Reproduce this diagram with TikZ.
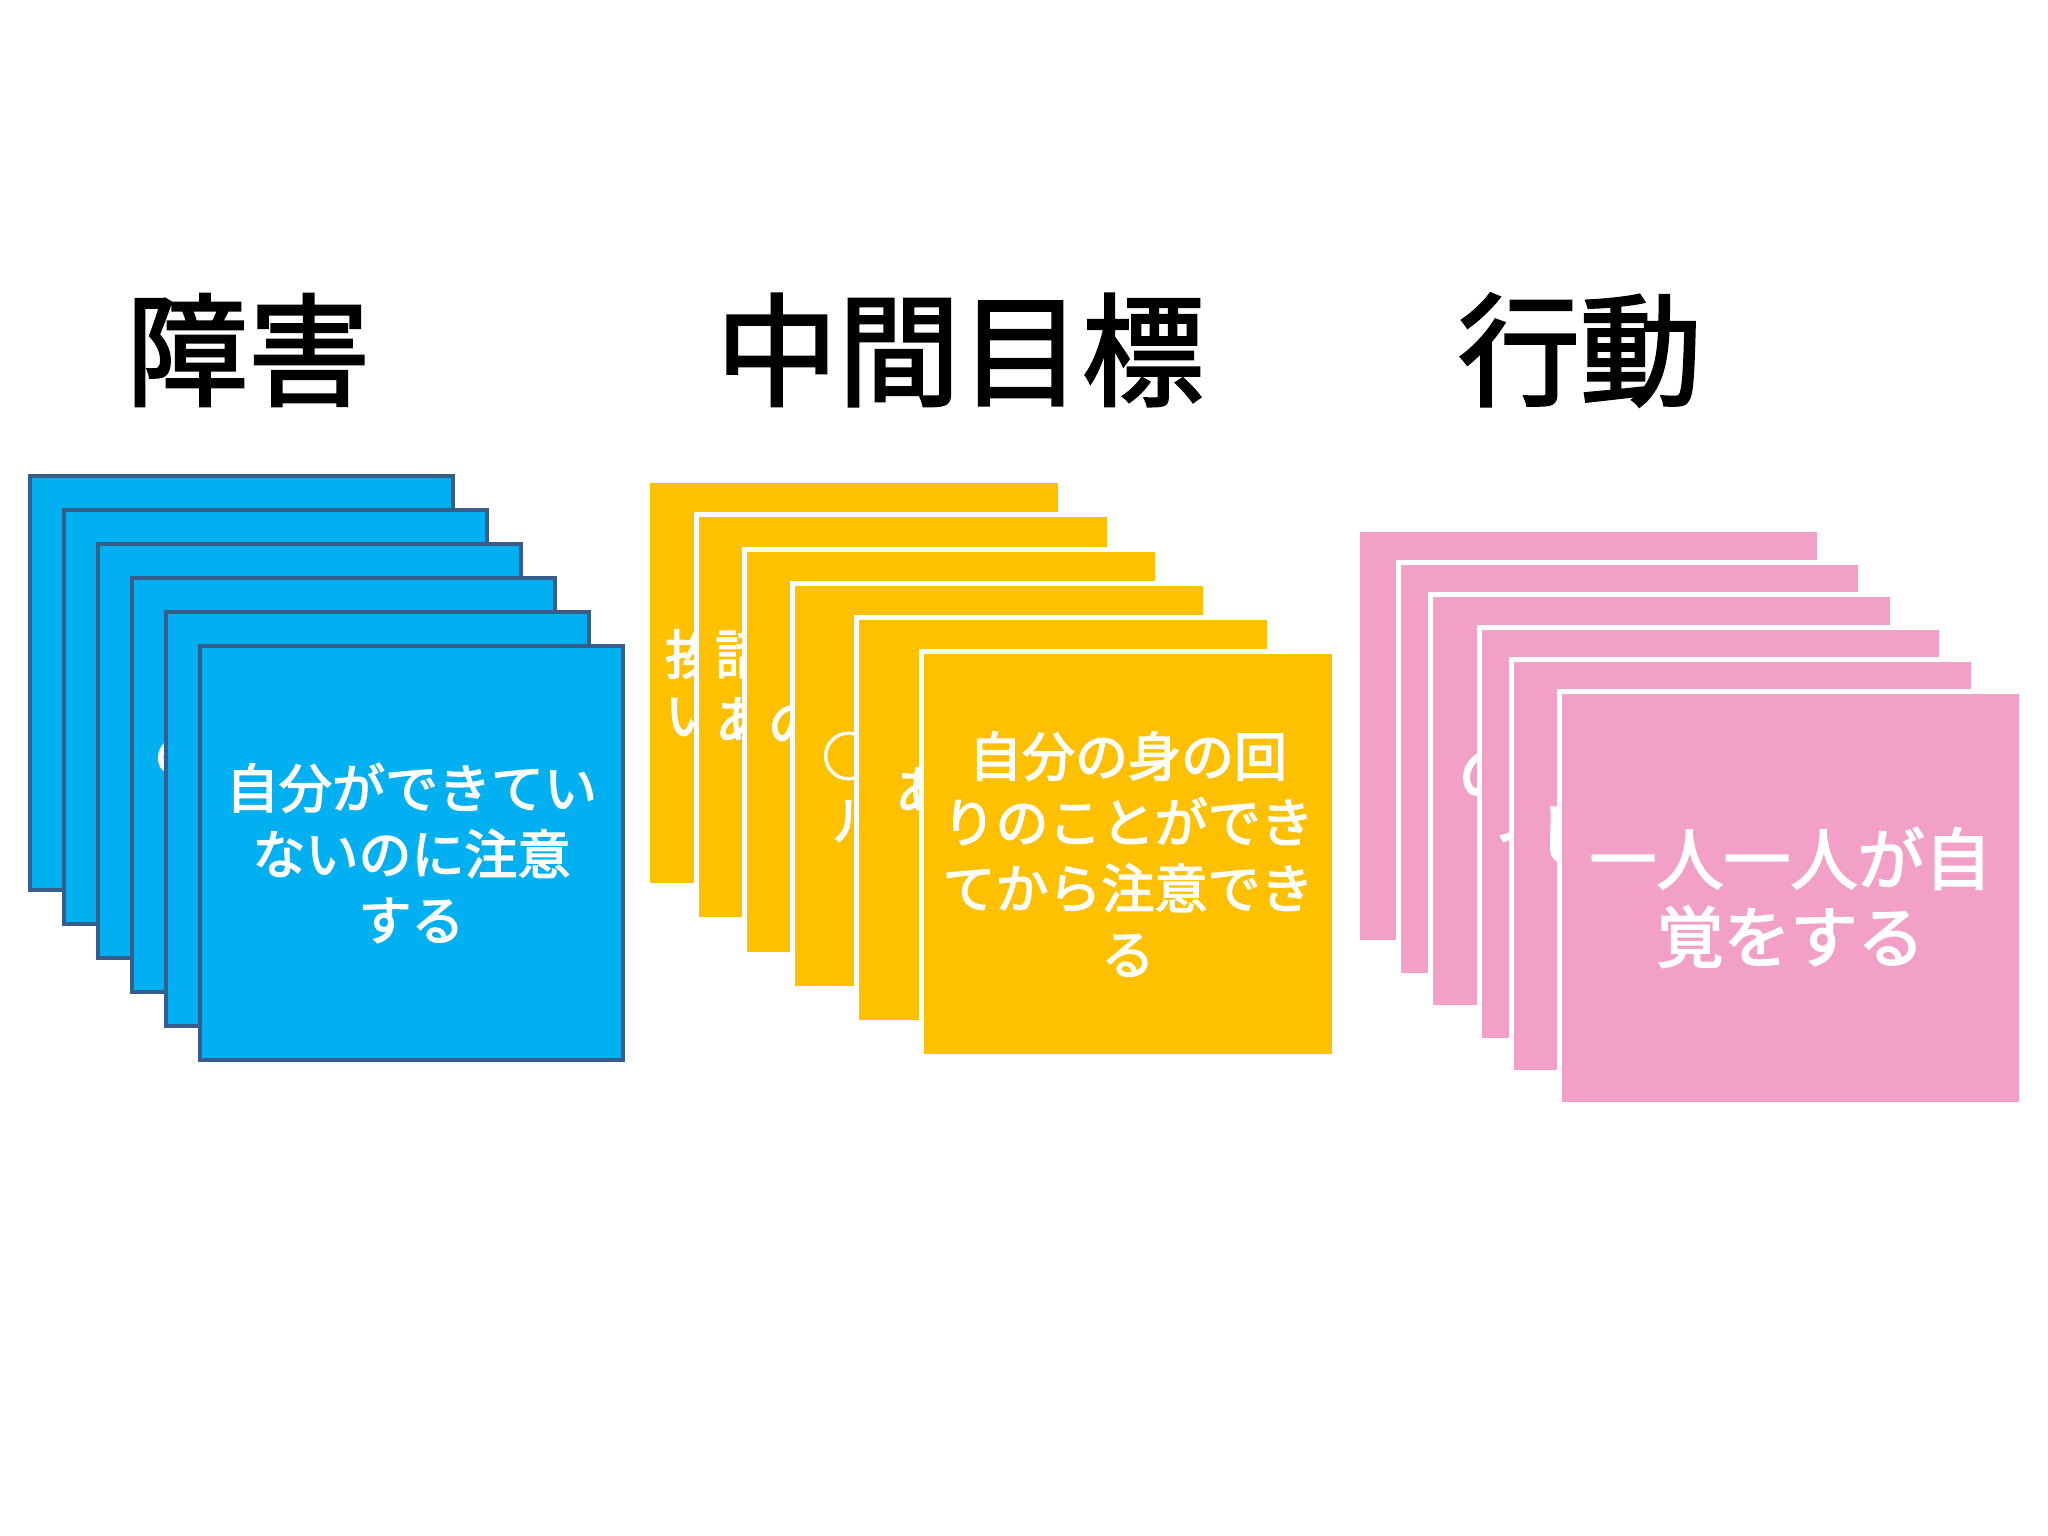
\documentclass[tikz,border=0pt]{standalone}
\usepackage{fontspec}
\newfontfamily\jp[FakeBold=2.6]{Noto Sans CJK JP}
\newfontfamily\jpt[FakeBold=2.2]{Noto Sans CJK JP}
\definecolor{bluefill}{HTML}{00B0F0}
\definecolor{bluedge}{HTML}{385D8A}
\definecolor{yelfill}{HTML}{FFC000}
\definecolor{pinkfill}{HTML}{F2A0C8}
\tikzset{
  cardbase/.style={rectangle, anchor=north west, inner sep=0pt, outer sep=0pt, align=center, text=white},
  bluecard/.style={cardbase, draw=bluedge, line width=4pt, fill=bluefill, minimum width=423pt, minimum height=414pt},
  yelcard/.style={cardbase, draw=white, line width=5pt, fill=yelfill, minimum width=413pt, minimum height=405pt},
  pinkcard/.style={cardbase, draw=white, line width=5pt, fill=pinkfill, minimum width=462pt, minimum height=413pt},
  smalltext/.style={font=\jp\fontsize{53}{66}\selectfont},
  bigtext/.style={font=\jp\fontsize{67}{78}\selectfont},
  frag/.style={text=white, inner sep=0pt, outer sep=0pt, anchor=west},
  title/.style={inner sep=0pt, text=black, font=\jpt\fontsize{122}{140}\selectfont}
}
\begin{document}
\begin{tikzpicture}[x=1pt,y=-1pt]
\useasboundingbox (0,0) rectangle (2048,1536);
\fill[white] (0,0) rectangle (2048,1536);
% titles
\node[title] (t1) at (248,350) {障害};
\node[title] (t2) at (960,350) {中間目標};
\node[title] (t3) at (1580,350) {行動};
% blue stack
\node[bluecard] (b1) at (29.5,476) {};
\node[bluecard] (b2) at (63.6,510) {};
\node[bluecard] (b3) at (97.7,544) {};
\node[bluecard] (b4) at (131.8,578) {};
\node[frag, smalltext] (bf1) at (154,756) {の};
\node[bluecard] (b5) at (165.9,612) {};
\node[bluecard, smalltext] (b6) at (200,646) {自分ができてい\\ないのに注意\\する};
% yellow stack
\node[yelcard] (y1) at (647,480.5) {};
\node[frag, smalltext] (yf1) at (665,654) {挨};
\node[frag, smalltext] (yf2) at (665,717) {い};
\node[yelcard] (y2) at (696,514.5) {};
\node[frag, smalltext] (yf3) at (715,654) {話};
\node[frag, smalltext] (yf4) at (715,720) {あ};
\node[yelcard] (y3) at (744,549) {};
\node[frag, smalltext] (yf5) at (768,725) {の};
\node[yelcard] (y4) at (792,583) {};
\node[frag, smalltext] (yf6) at (822,756) {○};
\node[frag, smalltext] (yf7) at (832,821) {ル};
\node[yelcard] (y5) at (856,617) {};
\node[frag, smalltext] (yf8) at (895,790) {あ};
\node[yelcard, smalltext] (y6) at (921.5,651.5) {自分の身の回\\りのことができ\\てから注意でき\\る};
% pink stack
\node[pinkcard] (p1) at (1357,529.5) {};
\node[pinkcard] (p2) at (1398,562) {};
\node[pinkcard] (p3) at (1430,594) {};
\node[frag, bigtext] (pf1) at (1458,775) {の};
\node[pinkcard] (p4) at (1479,627) {};
\node[frag, bigtext] (pf2) at (1495,835) {イ};
\node[pinkcard] (p5) at (1511,659) {};
\node[frag, bigtext] (pf3) at (1535,835) {し};
\node[pinkcard, bigtext] (p6) at (1559.5,691) {一人一人が自\\覚をする};
\end{tikzpicture}
\end{document}
